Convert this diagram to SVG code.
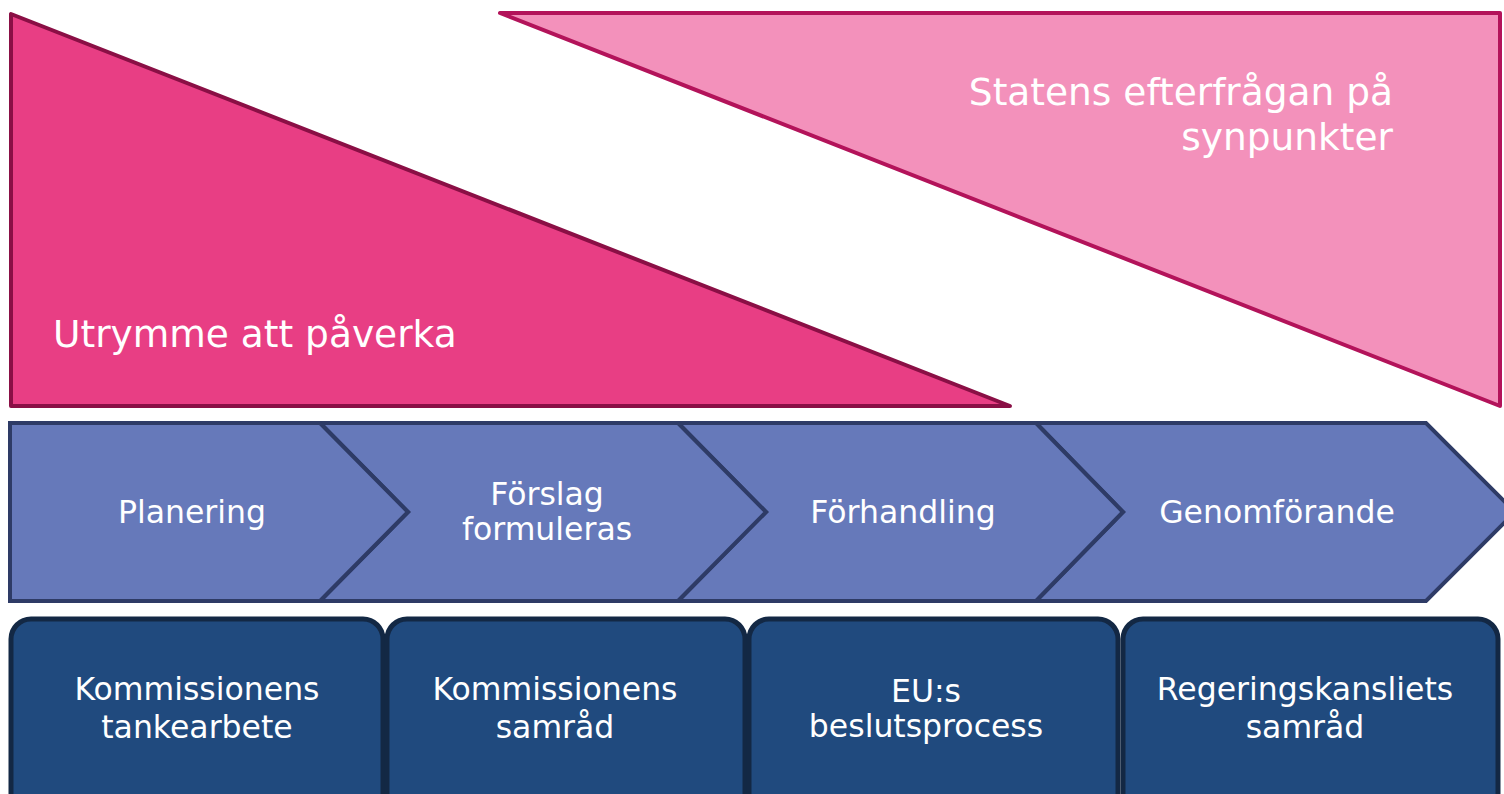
<svg xmlns="http://www.w3.org/2000/svg" width="1504" height="794" viewBox="0 0 1504 794">
<style>
text{font-family:"DejaVu Sans","Liberation Sans",sans-serif;fill:#ffffff}
.big{font-size:37.5px}
.mid{font-size:31.5px;text-anchor:middle}
.chev{fill:#6679BA;stroke:#2E3B66;stroke-width:4;stroke-linejoin:miter}
.box{fill:#204A7E;stroke:#132844;stroke-width:5}
</style>
<rect width="1504" height="794" fill="#ffffff"/>
<g id="utrymme">
<polygon points="11,14 11,406 1010,406" fill="#E83E84" stroke="#8A0F45" stroke-width="4" stroke-linejoin="round"/>
<text class="big" x="53" y="347">Utrymme att påverka</text>
</g>
<g id="statens">
<polygon points="500,13 1500,13 1500,406" fill="#F391BB" stroke="#B3135A" stroke-width="4" stroke-linejoin="round"/>
<text class="big" x="1393" y="105" text-anchor="end">Statens efterfrågan på</text>
<text class="big" x="1393" y="150" text-anchor="end">synpunkter</text>
</g>
<g id="genomforande">
<polygon class="chev" points="1036,423 1426,423 1515,512 1426,601 1036,601 1123,512"/>
<text class="mid" x="1277" y="523">Genomförande</text>
</g>
<g id="forhandling">
<polygon class="chev" points="678,423 1036,423 1123,512 1036,601 678,601 766,512"/>
<text class="mid" x="903" y="523">Förhandling</text>
</g>
<g id="forslag">
<polygon class="chev" points="320,423 678,423 766,512 678,601 320,601 408,512"/>
<text class="mid" x="547" y="505">Förslag</text>
<text class="mid" x="547" y="540">formuleras</text>
</g>
<g id="planering">
<polygon class="chev" points="10,423 320,423 408,512 320,601 10,601"/>
<text class="mid" x="192" y="523">Planering</text>
</g>
<g id="kommission-tanke">
<rect class="box" x="11" y="619" width="372" height="200" rx="20"/>
<text class="mid" x="197" y="700">Kommissionens</text>
<text class="mid" x="197" y="738">tankearbete</text>
</g>
<g id="kommission-samrad">
<rect class="box" x="387" y="619" width="358" height="200" rx="20"/>
<text class="mid" x="555" y="700">Kommissionens</text>
<text class="mid" x="555" y="738">samråd</text>
</g>
<g id="eu-beslut">
<rect class="box" x="749" y="619" width="369" height="200" rx="20"/>
<text class="mid" x="926" y="702">EU:s</text>
<text class="mid" x="926" y="737">beslutsprocess</text>
</g>
<g id="rk-samrad">
<rect class="box" x="1123" y="619" width="375" height="200" rx="20"/>
<text class="mid" x="1305" y="700">Regeringskansliets</text>
<text class="mid" x="1305" y="738">samråd</text>
</g>
<g id="connectors"></g>
</svg>
